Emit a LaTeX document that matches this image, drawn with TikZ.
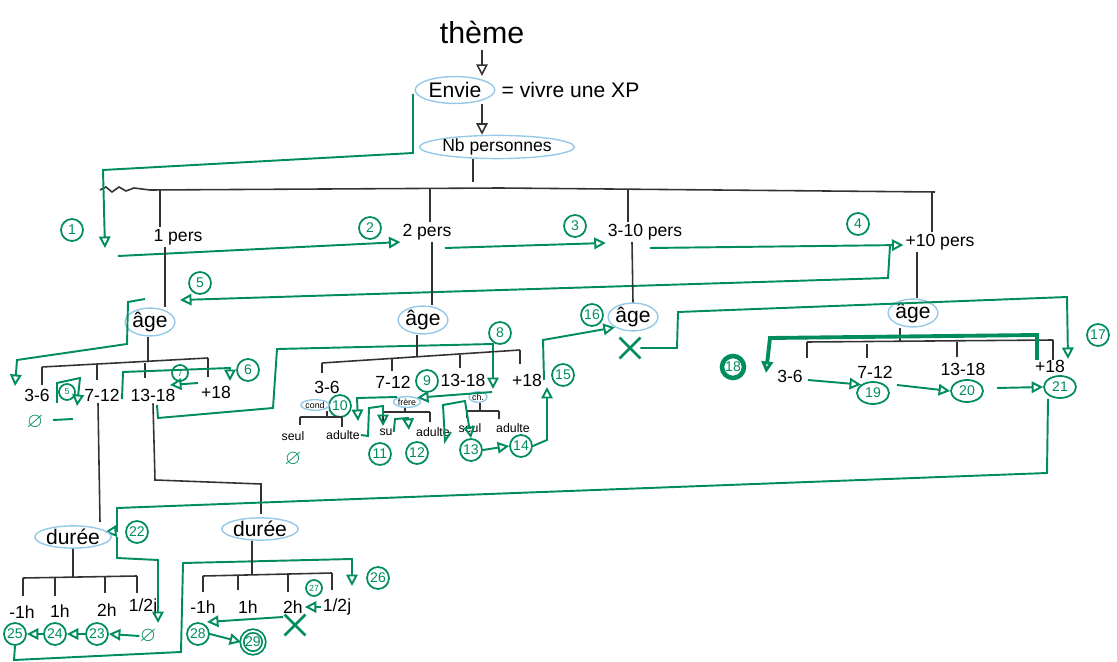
\documentclass[tikz,border=0pt]{standalone}
\usepackage{fontspec}
\usepackage{amssymb}
\setmainfont{Liberation Sans}
\usetikzlibrary{arrows.meta, positioning, shapes.geometric, shapes.misc}
\definecolor{feutre}{RGB}{0,140,95}
\definecolor{surligne}{RGB}{150,200,232}

\tikzset{
  trait/.style={draw=black!80, line width=0.9pt},
  vert/.style={draw=feutre, line width=1.1pt},
  fleche/.style={vert, -{Triangle[open,length=2.3mm,width=2.3mm]}},
  flechenoire/.style={trait, -{Triangle[open,length=2.3mm,width=2.3mm]}},
  bulle/.style={ellipse, draw=surligne, line width=0.8pt, inner sep=0pt},
  num/.style={circle, draw=feutre, text=feutre, line width=1pt, inner sep=0.5pt,
    minimum size=0.44cm, font=\footnotesize},
  numov/.style={num, ellipse, minimum width=0.64cm, minimum height=0.44cm},
  mini/.style={num, minimum size=0.32cm, font=\tiny},
  etiq/.style={font=\normalsize, inner sep=1pt},
  petit/.style={font=\scriptsize, inner sep=0.5pt},
  minibulle/.style={bulle, font=\tiny, inner sep=0.3pt},
  croix/.style={cross out, draw=feutre, line width=1.6pt, minimum size=0.36cm},
  vide/.style={text=feutre, font=\large, inner sep=0pt}
}

\begin{document}
\begin{tikzpicture}[x=0.02cm, y=-0.02cm]
  \useasboundingbox (0,0) rectangle (1117,662);
  % tronc
  \node[font=\LARGE] (theme) at (482,32) {thème};
  \node[bulle, font=\large, inner sep=1pt] (envie) at (455,90) {Envie};
  \node[font=\large, right=0pt of envie] (xp) {= vivre une XP};
  \node[bulle, font=\normalsize] (nbpers) at (497,147) {Nb personnes};
  \draw[flechenoire] (theme.south) -- (theme.south |- envie.north);
  \draw[flechenoire] (theme |- envie.south) -- (theme |- nbpers.north);
  \draw[trait] (nbpers.south -| 473,0) -- (473,182);
  \draw[trait] (100,190) -- (106,187) -- (112,192) -- (119,187) -- (126,191) -- (134,188)
    -- (150,190) -- (500,188) -- (935,192);
  % nombre de personnes
  \node[etiq] (p1) at (178,237) {1 pers};
  \node[etiq] (p2) at (427,232) {2 pers};
  \node[etiq] (p3) at (645,232) {3-10 pers};
  \node[etiq] (p4) at (940,242) {+10 pers};
  \draw[trait] (160,190) -- (p1.north -| 160,0);
  \draw[trait] (430,189) -- (p2.north -| 430,0);
  \draw[trait] (628,190) -- (p3.north -| 628,0);
  \draw[trait] (932,192) -- (p4.north -| 932,0);
  \node[num] (n1) at (72,230) {1};
  \node[num] (n2) at (370,228) {2};
  \node[num] (n3) at (575,226) {3};
  \node[num] (n4) at (858,224) {4};
  \node[num] (n5) at (200,283) {5};
  \draw[fleche] (413,94) -- (413,153) -- (103,170) -- (105,248);
  \draw[fleche] (118,256) -- (p2.south west);
  \draw[fleche] (445,248) -- (p3.west |- 0,243);
  \draw[fleche] (650,248) -- (p4.west |- 0,245);
  \draw[fleche] (890,246) -- (888,278) -- (180,300);
  % ages
  \node[bulle, font=\large] (age1) at (150,322) {âge};
  \node[bulle, font=\large] (age2) at (423,320) {âge};
  \node[bulle, font=\large] (age3) at (633,317) {âge};
  \node[bulle, font=\large] (age4) at (913,313) {âge};
  \draw[trait] (p1.south -| 165,0) -- (age1.north -| 165,0);
  \draw[trait] (p2.south -| 432,0) -- (age2.north -| 432,0);
  \draw[trait] (p3.south -| 632,0) -- (age3.north);
  \draw[trait] (p4.south -| 917,0) -- (age4.north -| 917,0);

  % 1 pers
  \draw[trait] (age1.south -| 148,0) -- (148,362);
  \draw[trait] (42,367) -- (208,358);
  \draw[trait] (42,367) -- (42,385) (97,365) -- (97,380) (145,363) -- (145,378) (208,358) -- (208,377);
  \node[etiq] (a13) at (37,395) {3-6};
  \node[etiq] (a17) at (102,395) {7-12};
  \node[etiq] (a113) at (153,395) {13-18};
  \node[etiq] (a118) at (216,392) {+18};
  \draw[fleche] (145,299) -- (128,302) -- (127,344) -- (17,360) -- (15,386);
  \node[vide] (vide1) at (35,422) {$\varnothing$};
  \draw[vert] (53,420) -- (73,419);
  \draw[fleche] (57,403) -- (57,383) -- (80,378) -- (77,406);
  \node[mini] (n5b) at (67,392) {5};
  \draw[fleche] (a17.east) -- (122,399) -- (123,372) -- (230,368) -- (230,381);
  \node[num] (n6) at (248,370) {6};
  \draw[fleche] (198,383) -- (170,385);
  \node[mini] (n7) at (180,373) {7};
  \draw[fleche] (157,405) -- (158,418) -- (273,408) -- (277,349) -- (493,344) -- (493,389);
  \node[num] (n8) at (500,333) {8};
  \draw[trait] (a17.south -| 98,0) -- (100,522);
  \draw[trait] (a113.south -| 153,0) -- (155,480) -- (261,484) -- (261,514);

  % 2 pers
  \draw[trait] (age2.south -| 417,0) -- (417,357);
  \draw[trait] (322,363) -- (520,350);
  \draw[trait] (322,363) -- (322,373) (392,359) -- (392,371) (460,355) -- (460,368) (520,350) -- (520,364);
  \node[etiq] (b13) at (327,387) {3-6};
  \node[etiq] (b17) at (393,382) {7-12};
  \node[etiq] (b113) at (463,380) {13-18};
  \node[etiq] (b118) at (527,380) {+18};
  \node[num] (n9) at (427,381) {9};
  \node[num] (n10) at (340,406) {10};
  \node[num] (n15) at (563,375) {15};
  \node[minibulle] (s1) at (315,405) {cond};
  \node[minibulle] (s2) at (407,402) {frère};
  \node[minibulle] (s3) at (478,397) {ch.};
  \draw[trait] (s1.south -| 327,0) -- (327,417) (300,417) -- (342,417) (300,417) -- (300,425) (342,417) -- (342,427);
  \draw[trait] (s2.south -| 405,0) -- (405,412) (383,412) -- (430,412) (383,412) -- (383,421) (430,412) -- (430,422);
  \draw[trait] (s3.south -| 480,0) -- (480,411) (467,411) -- (499,411) (467,411) -- (467,418) (499,411) -- (499,419);
  \node[petit] (c1a) at (293,436) {seul};
  \node[petit] (c1b) at (343,435) {adulte};
  \node[petit] (c2a) at (386,432) {su};
  \node[petit] (c2b) at (433,432) {adulte};
  \node[petit] (c3a) at (470,428) {seul};
  \node[petit] (c3b) at (513,428) {adulte};
  \node[vide] (vide2) at (293,459) {$\varnothing$};
  \node[num] (n11) at (380,454) {11};
  \node[num] (n12) at (417,453) {12};
  \node[num] (n13) at (471,450) {13};
  \node[num] (n14) at (521,446) {14};
  \draw[fleche] (492,392) -- (s2.north east);
  \draw[fleche] (397,397) -- (357,398) -- (358,421);
  \draw[fleche] (c1b.east) -- (368,436) -- (369,408) -- (383,406) -- (383,426);
  \draw[fleche] (c2a.east) -- (395,419) -- (408,418) -- (409,430);
  \draw[fleche] (c2b.east) -- (445,441) -- (443,405) -- (465,401) -- (n13.north);
  \draw[fleche] (n13.east) -- (n14.west);
  \draw[fleche] (n14.east) -- (547,440) -- (547,387);
  \draw[fleche] (b118.east) -- (543,340) -- (age3.south west);
  \node[num] (n16) at (592,315) {16};

  % 3-10 pers
  \node[croix] (x3) at (630,348) {};
  \draw[fleche] (x3.east) -- (677,348) -- (678,312) -- (1067,297) -- (1068,359);
  \node[num] (n17) at (1098,335) {17};

  % +10 pers
  \draw[trait] (age4.south -| 900,0) -- (900,342);
  \draw[trait] (807,342) -- (1053,340);
  \draw[trait] (807,342) -- (807,358) (867,344) -- (867,358) (957,342) -- (957,357) (1053,340) -- (1053,360);
  \node[etiq] (d13) at (790,376) {3-6};
  \node[etiq] (d17) at (875,372) {7-12};
  \node[etiq] (d113) at (963,369) {13-18};
  \node[etiq] (d118) at (1050,366) {+18};
  \draw[fleche, line width=2.2pt] (1037,360) -- (1037,335) -- (770,338) -- (766,373);
  \node[num, line width=2.6pt] (n18) at (733,367) {18};
  \node[numov] (n19) at (873,393) {19};
  \node[numov] (n20) at (967,391) {20};
  \node[numov] (n21) at (1060,387) {21};
  \draw[fleche] (808,380) -- (n19.north west);
  \draw[fleche] (897,385) -- (n20.west);
  \draw[fleche] (997,388) -- (n21.west);
  \draw[fleche] (n21.south -| 1048,0) -- (1047,473) -- (117,508) -- (117,531) -- (105,532);
  \node[num] (n22) at (137,532) {22};

  % durees
  \node[bulle, font=\large] (duree1) at (73,537) {durée};
  \node[bulle, font=\large] (duree2) at (260,529) {durée};
  \draw[trait] (duree1.south) -- (73,578) (23,578) -- (137,576);
  \draw[trait] (23,578) -- (23,596) (55,577) -- (55,596) (105,577) -- (105,593) (137,576) -- (137,593);
  \node[etiq] (e1) at (22,612) {-1h};
  \node[etiq] (e2) at (60,611) {1h};
  \node[etiq] (e3) at (107,610) {2h};
  \node[etiq] (e4) at (143,607) {1/2j};
  \draw[fleche] (117,537) -- (117,558) -- (158,560) -- (158,623);
  \node[vide] (vide3) at (148,636) {$\varnothing$};
  \node[num] (n23) at (97,634) {23};
  \node[num] (n24) at (55,634) {24};
  \node[num] (n25) at (15,634) {25};
  \draw[fleche] (vide3.west) -- (n23.east);
  \draw[fleche] (n23.west) -- (n24.east);
  \draw[fleche] (n24.west) -- (n25.east);
  \draw[fleche] (n25.south) -- (14,660) -- (181,652) -- (183,563) -- (352,559) -- (352,586);
  \node[num] (n26) at (378,578) {26};
  \draw[trait] (duree2.south -| 252,0) -- (252,575) (203,576) -- (332,573);
  \draw[trait] (203,576) -- (203,592) (238,576) -- (238,590) (288,574) -- (288,592) (332,573) -- (332,590);
  \node[etiq] (f1) at (203,607) {-1h};
  \node[etiq] (f2) at (248,607) {1h};
  \node[etiq] (f3) at (293,607) {2h};
  \node[etiq] (f4) at (337,607) {1/2j};
  \node[mini] (n27) at (314,588) {27};
  \draw[fleche] (f4.west) -- (f3.east);
  \node[croix] (x5) at (295,625) {};
  \draw[fleche] (283,617) -- (207,622);
  \node[num] (n28) at (198,634) {28};
  \node[num, double, double distance=1pt] (n29) at (253,642) {29};
  \draw[fleche] (n28.east) -- (n29.west);
\end{tikzpicture}
\end{document}
